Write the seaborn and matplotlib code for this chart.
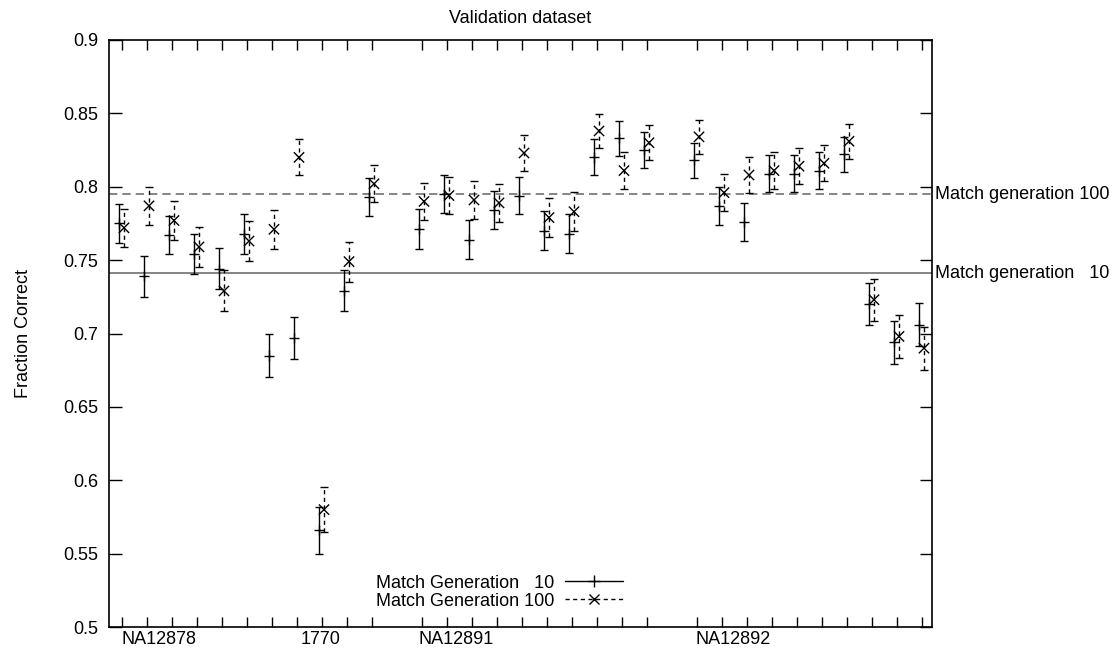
import numpy as np
import pandas as pd
import matplotlib
matplotlib.use("Agg")
import matplotlib.pyplot as plt
import matplotlib.transforms as mtransforms
from matplotlib.lines import Line2D
import seaborn as sns

# Data
positions = [0, 1, 2, 3, 4, 5, 6, 7, 8, 9, 10,
             12, 13, 14, 15, 16, 17, 18, 19, 20, 21,
             23, 24, 25, 26, 27, 28, 29, 30, 31, 32]

gen10 = [0.775, 0.739, 0.767, 0.754, 0.744, 0.768, 0.685, 0.697, 0.566, 0.729, 0.793,
         0.771, 0.795, 0.764, 0.784, 0.794, 0.770, 0.768, 0.820, 0.833, 0.825,
         0.818, 0.787, 0.776, 0.809, 0.809, 0.811, 0.822, 0.720, 0.694, 0.706]
gen10_err = [0.0130, 0.0140, 0.0130, 0.0135, 0.0140, 0.0135, 0.0147, 0.0145, 0.0160, 0.0140, 0.0128,
             0.0135, 0.0127, 0.0135, 0.0131, 0.0129, 0.0134, 0.0134, 0.0122, 0.0119, 0.0121,
             0.0121, 0.0129, 0.0132, 0.0124, 0.0124, 0.0124, 0.0120, 0.0142, 0.0145, 0.0147]

gen100 = [0.772, 0.787, 0.777, 0.759, 0.729, 0.763, 0.771, 0.820, 0.580, 0.749, 0.802,
          0.790, 0.794, 0.791, 0.789, 0.823, 0.779, 0.783, 0.838, 0.811, 0.830,
          0.834, 0.796, 0.808, 0.811, 0.814, 0.816, 0.831, 0.723, 0.698, 0.690]
gen100_err = [0.0130, 0.0128, 0.0132, 0.0136, 0.0140, 0.0134, 0.0134, 0.0122, 0.0156, 0.0136, 0.0126,
              0.0128, 0.0129, 0.0130, 0.0130, 0.0121, 0.0130, 0.0132, 0.0118, 0.0124, 0.0120,
              0.0116, 0.0127, 0.0124, 0.0124, 0.0124, 0.0122, 0.0119, 0.0142, 0.0146, 0.0147]

# overall match rates (horizontal reference lines)
match10 = 0.741
match100 = 0.795

sample_labels = ["NA12878", "1770", "NA12891", "NA12892"]
sample_label_pos = [1.5, 7.95, 13.4, 24.45]

offset = 0.1

df = pd.DataFrame({
    "pos": positions * 2,
    "x": [p - offset for p in positions] + [p + offset for p in positions],
    "frac": gen10 + gen100,
    "err": gen10_err + gen100_err,
    "series": ["Match Generation   10"] * len(positions) + ["Match Generation 100"] * len(positions),
})

sns.set_theme(style="ticks")
plt.rcParams['font.family'] = ['Liberation Sans', 'DejaVu Sans']
plt.rcParams['font.size'] = 13
for key in ["text.color", "axes.labelcolor", "xtick.color", "ytick.color", "axes.edgecolor"]:
    plt.rcParams[key] = "black"

fig = plt.figure(figsize=(11.15, 6.55), dpi=100)
ax = fig.add_axes([109 / 1115, 1 - 627 / 655, 822.5 / 1115, 587 / 655])

# reference lines
ax.axhline(match100, color="#707070", lw=1.2, ls=(0, (5, 3)), zorder=1)
ax.axhline(match10, color="#707070", lw=1.2, ls="-", zorder=1)

styles = {
    "Match Generation   10": dict(ls="-", marker="+"),
    "Match Generation 100": dict(ls=(0, (3, 2.5)), marker="x"),
}
for name, sub in df.groupby("series", sort=False):
    st = styles[name]
    eb = ax.errorbar(sub["x"], sub["frac"], yerr=sub["err"], fmt="none",
                     ecolor="black", elinewidth=1.0, capsize=3, capthick=1.0, zorder=2)
    eb[2][0].set_linestyle(st["ls"])

sns.scatterplot(data=df, x="x", y="frac", style="series",
                markers={"Match Generation   10": "+", "Match Generation 100": "x"},
                color="black", s=55, linewidth=1.0, legend=False, ax=ax, zorder=3)

# right side labels
trans = mtransforms.blended_transform_factory(ax.transAxes, ax.transData)
ax.text(1.004, match100, "Match generation 100", transform=trans,
        ha="left", va="center", fontsize=13)
ax.text(1.004, match10, "Match generation   10", transform=trans,
        ha="left", va="center", fontsize=13)

ax.set_xlim(-0.5, 32.4)
ax.set_ylim(0.5, 0.9)
ax.set_yticks(np.arange(0.5, 0.91, 0.05))
ax.set_yticklabels(["0.5", "0.55", "0.6", "0.65", "0.7", "0.75", "0.8", "0.85", "0.9"])
ax.set_xticks(positions)
ax.set_xticklabels([])
ax.set_xticks(sample_label_pos, minor=True)
ax.set_xticklabels(sample_labels, minor=True)
ax.tick_params(axis="x", which="major", direction="in", length=7, width=1,
               top=True, bottom=True, colors="black")
ax.tick_params(axis="x", which="minor", length=0, pad=3, labelsize=13)
ax.tick_params(axis="y", which="major", direction="in", length=9, width=1,
               left=True, right=True, labelsize=13, pad=8)
for sp in ax.spines.values():
    sp.set_visible(True)
    sp.set_color("black")
    sp.set_linewidth(1.2)

ax.set_xlabel("")
ax.set_ylabel("Fraction Correct", fontsize=13, labelpad=22)
ax.set_title("Validation dataset", fontsize=13, pad=12)

handles = [
    Line2D([], [], color="black", lw=1.0, ls="-", marker="+", markersize=8),
    Line2D([], [], color="black", lw=1.0, ls=(0, (3, 2.5)), marker="x", markersize=7),
]
ax.legend(handles, ["Match Generation   10", "Match Generation 100"],
          loc="lower center", bbox_to_anchor=(0.475, 0.005), frameon=False,
          markerfirst=False, handlelength=3.2, labelspacing=0.05,
          fontsize=13, handletextpad=0.6, borderpad=0.3)

fig.savefig("out.png", dpi=100)
